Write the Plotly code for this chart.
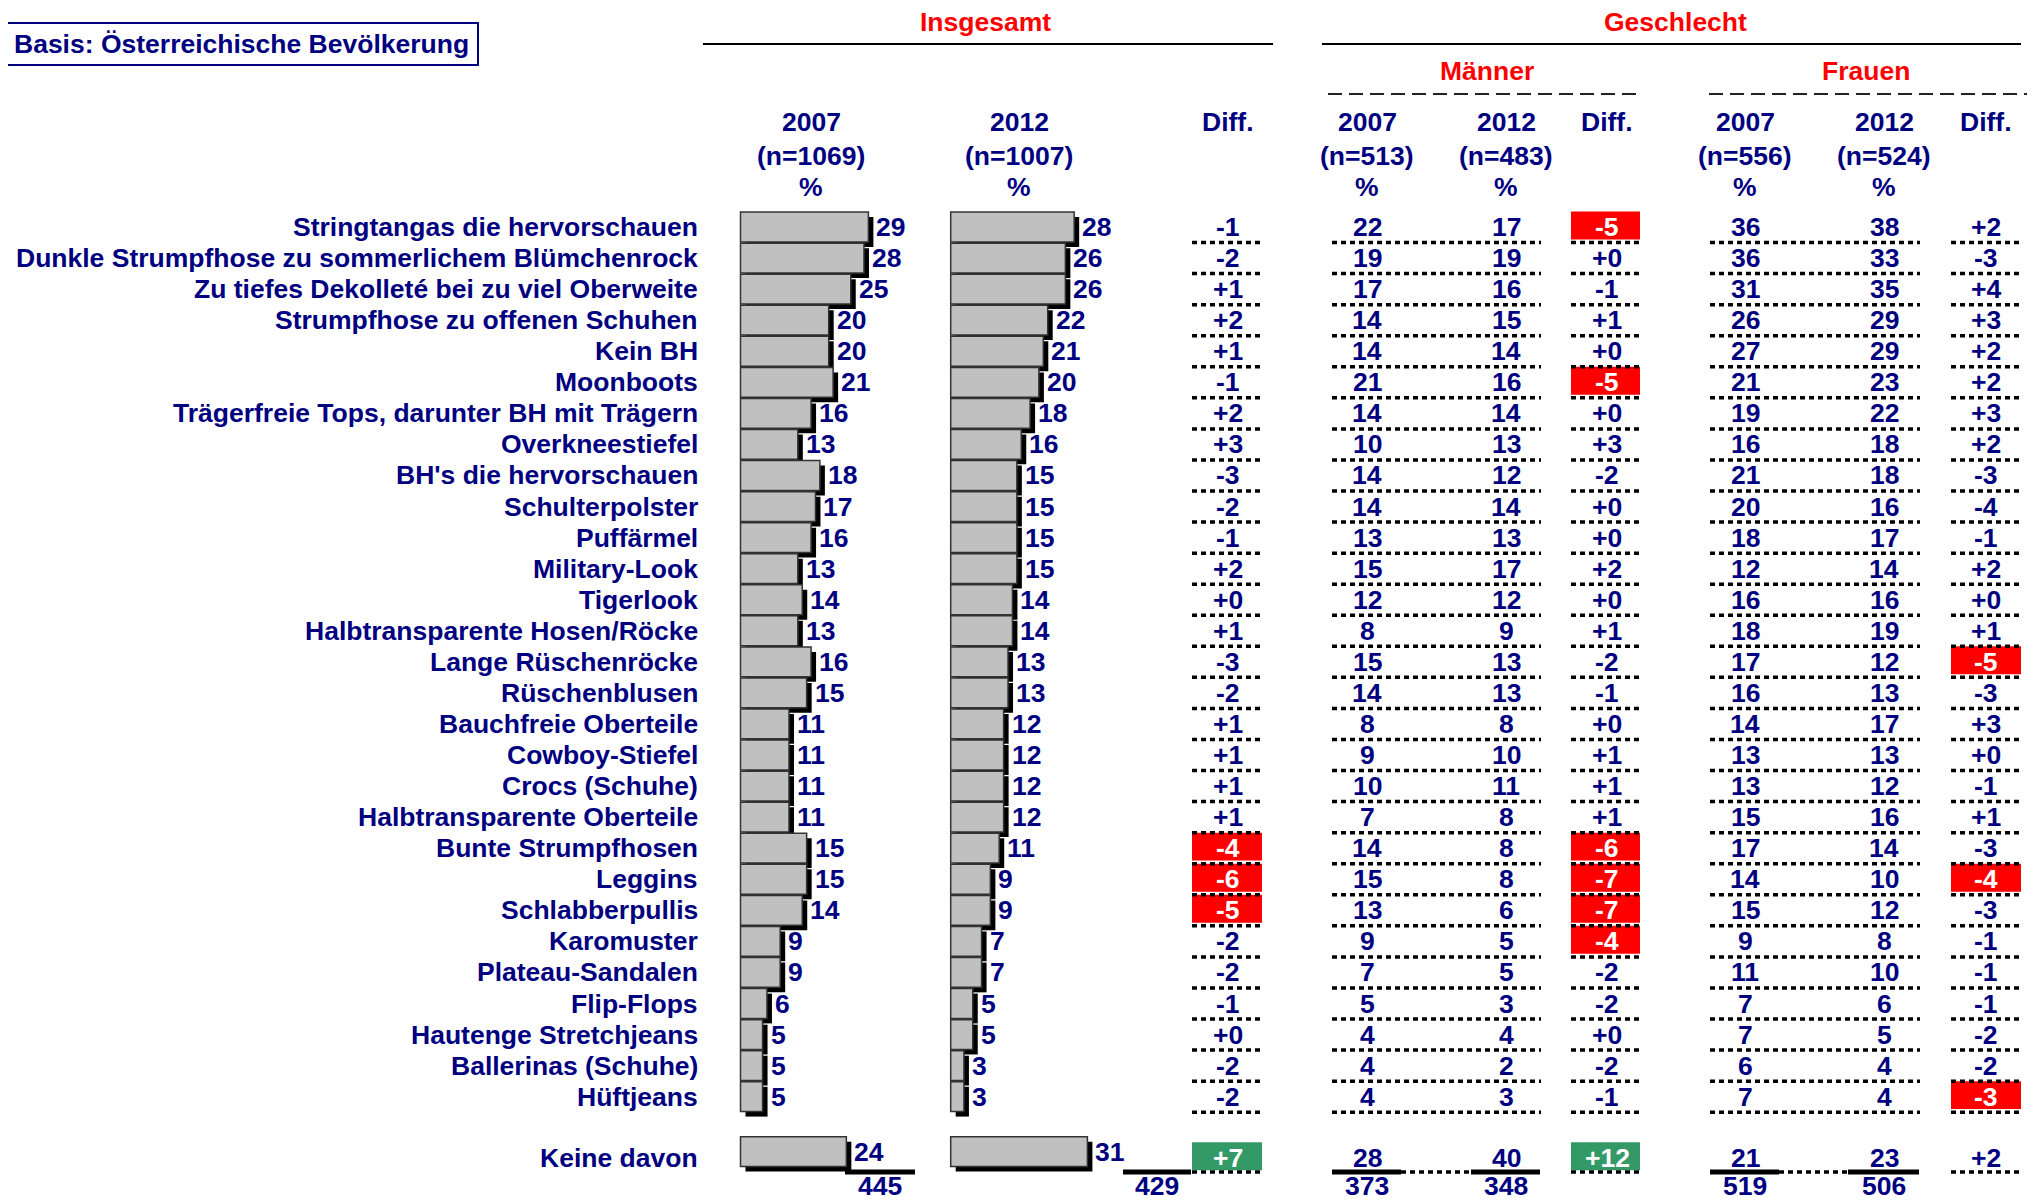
import plotly.graph_objects as go

# ---------------- data ----------------
labels = [
    "Stringtangas die hervorschauen",
    "Dunkle Strumpfhose zu sommerlichem Blümchenrock",
    "Zu tiefes Dekolleté bei zu viel Oberweite",
    "Strumpfhose zu offenen Schuhen",
    "Kein BH",
    "Moonboots",
    "Trägerfreie Tops, darunter BH mit Trägern",
    "Overkneestiefel",
    "BH's die hervorschauen",
    "Schulterpolster",
    "Puffärmel",
    "Military-Look",
    "Tigerlook",
    "Halbtransparente Hosen/Röcke",
    "Lange Rüschenröcke",
    "Rüschenblusen",
    "Bauchfreie Oberteile",
    "Cowboy-Stiefel",
    "Crocs (Schuhe)",
    "Halbtransparente Oberteile",
    "Bunte Strumpfhosen",
    "Leggins",
    "Schlabberpullis",
    "Karomuster",
    "Plateau-Sandalen",
    "Flip-Flops",
    "Hautenge Stretchjeans",
    "Ballerinas (Schuhe)",
    "Hüftjeans",
]
tot_2007 = [29, 28, 25, 20, 20, 21, 16, 13, 18, 17, 16, 13, 14, 13, 16, 15, 11, 11, 11, 11, 15, 15, 14, 9, 9, 6, 5, 5, 5]
tot_2012 = [28, 26, 26, 22, 21, 20, 18, 16, 15, 15, 15, 15, 14, 14, 13, 13, 12, 12, 12, 12, 11, 9, 9, 7, 7, 5, 5, 3, 3]
tot_diff = [-1, -2, 1, 2, 1, -1, 2, 3, -3, -2, -1, 2, 0, 1, -3, -2, 1, 1, 1, 1, -4, -6, -5, -2, -2, -1, 0, -2, -2]
men_2007 = [22, 19, 17, 14, 14, 21, 14, 10, 14, 14, 13, 15, 12, 8, 15, 14, 8, 9, 10, 7, 14, 15, 13, 9, 7, 5, 4, 4, 4]
men_2012 = [17, 19, 16, 15, 14, 16, 14, 13, 12, 14, 13, 17, 12, 9, 13, 13, 8, 10, 11, 8, 8, 8, 6, 5, 5, 3, 4, 2, 3]
men_diff = [-5, 0, -1, 1, 0, -5, 0, 3, -2, 0, 0, 2, 0, 1, -2, -1, 0, 1, 1, 1, -6, -7, -7, -4, -2, -2, 0, -2, -1]
wom_2007 = [36, 36, 31, 26, 27, 21, 19, 16, 21, 20, 18, 12, 16, 18, 17, 16, 14, 13, 13, 15, 17, 14, 15, 9, 11, 7, 7, 6, 7]
wom_2012 = [38, 33, 35, 29, 29, 23, 22, 18, 18, 16, 17, 14, 16, 19, 12, 13, 17, 13, 12, 16, 14, 10, 12, 8, 10, 6, 5, 4, 4]
wom_diff = [2, -3, 4, 3, 2, 2, 3, 2, -3, -4, -1, 2, 0, 1, -5, -3, 3, 0, -1, 1, -3, -4, -3, -1, -1, -1, -2, -2, -3]
# significant decreases (red cells)
tot_sig_down = [20, 21, 22]
men_sig_down = [0, 5, 20, 21, 22, 23]
wom_sig_down = [14, 21, 28]

none_label = "Keine davon"
none_tot = [24, 31, 7]     # 2007, 2012, diff
none_men = [28, 40, 12]
none_wom = [21, 23, 2]
none_sig_up = ["tot", "men"]  # green cells

sums_tot = [445, 429]
sums_men = [373, 348]
sums_wom = [519, 506]

hdr_tot = [("2007", "(n=1069)", "%"), ("2012", "(n=1007)", "%"), ("Diff.", "", "")]
hdr_men = [("2007", "(n=513)", "%"), ("2012", "(n=483)", "%"), ("Diff.", "", "")]
hdr_wom = [("2007", "(n=556)", "%"), ("2012", "(n=524)", "%"), ("Diff.", "", "")]

# ---------------- layout constants (page pixels) ----------------
PAGE_W, PAGE_H = 2035, 1200
OFF = 8                           # default body margin of the html page
W, H = PAGE_W - OFF, PAGE_H - OFF
Y0, ROW = 227.0, 31.06           # page-y of first row centre, row pitch
PX_PER = 4.41                     # pixels per percent
X0_07, X0_12 = 740.5, 950.7       # page-x of bar origins
SH = 5                            # shadow offset
BAR_W = 0.96
KEINE_T = 29.97
KEINE_B = 29.77

NAVY = "#000080"
RED = "#FF0000"
GREEN = "#339966"
FONT = "Liberation Sans, Arial, sans-serif"
FS = 26.5

COL = {"t07": 811, "t12": 1019, "td": 1228,
       "m07": 1367, "m12": 1506, "md": 1607,
       "w07": 1745, "w12": 1884, "wd": 1986}


def px(x):
    return (x - OFF) / W


def py(y):
    return 1 - (y - OFF) / H


rows = list(range(len(labels)))
fig = go.Figure()

dx_u = SH / PX_PER
dy_u = SH / ROW

series = [(tot_2007, rows, "x"), (tot_2012, rows, "x2"),
          ([none_tot[0]], [KEINE_B], "x"), ([none_tot[1]], [KEINE_B], "x2")]
for vals, ypos, ax in series:
    fig.add_trace(go.Bar(y=ypos, x=vals, orientation="h", base=dx_u,
                         offset=-BAR_W / 2 + dy_u, width=BAR_W,
                         marker=dict(color="black", line=dict(width=0)),
                         xaxis=ax, yaxis="y", hoverinfo="skip"))
for vals, ypos, ax in series:
    fig.add_trace(go.Bar(y=ypos, x=vals, orientation="h", width=BAR_W,
                         marker=dict(color="#C0C0C0", line=dict(color="#333333", width=1.5)),
                         xaxis=ax, yaxis="y", hoverinfo="skip"))

ann = []
shp = []


def txt(x, y, s, color=NAVY, xref="paper", yref="y", xanchor="center", size=FS, xshift=0, yshift=0):
    ann.append(dict(x=x, y=y, xref=xref, yref=yref, text="<b>" + s + "</b>", showarrow=False,
                    xanchor=xanchor, yanchor="middle", xshift=xshift, yshift=yshift,
                    font=dict(family=FONT, size=size, color=color)))


def hline(x0, x1, y, yref="y", width=3.5, dash="5px,4px", color="black"):
    shp.append(dict(type="line", xref="paper", yref=yref, x0=px(x0), x1=px(x1), y0=y, y1=y,
                    line=dict(color=color, width=width, dash=dash)))


def box(x0, x1, y0, y1, color, yref="y"):
    shp.append(dict(type="rect", xref="paper", yref=yref, x0=px(x0), x1=px(x1), y0=y0, y1=y1,
                    line=dict(width=0), fillcolor=color, layer="below"))


# Basis box
shp.append(dict(type="rect", xref="paper", yref="paper", x0=px(6), x1=px(478), y0=py(23), y1=py(65),
                line=dict(color=NAVY, width=2), fillcolor="rgba(0,0,0,0)"))
txt(px(12), py(44), "Basis: Österreichische Bevölkerung", xanchor="left", yref="paper")

# group headers
txt(px(985), py(22), "Insgesamt", color=RED, yref="paper")
txt(px(1675), py(22), "Geschlecht", color=RED, yref="paper")
txt(px(1487), py(71), "Männer", color=RED, yref="paper")
txt(px(1866), py(71), "Frauen", color=RED, yref="paper")
hline(703, 1273, py(44), yref="paper", width=2, dash="solid")
hline(1322, 2021, py(44), yref="paper", width=2, dash="solid")
hline(1328, 1639, py(94), yref="paper", width=2, dash="14px,7px", color="#222222")
hline(1709, 2032, py(94), yref="paper", width=2, dash="14px,7px", color="#222222")

# column headers
for keys, hdr in [(("t07", "t12", "td"), hdr_tot), (("m07", "m12", "md"), hdr_men), (("w07", "w12", "wd"), hdr_wom)]:
    for k, lines in zip(keys, hdr):
        for s, yy in zip(lines, (122, 156, 187)):
            if s:
                txt(px(COL[k]), py(yy), s, yref="paper")

# row labels
for i, lab in enumerate(labels):
    txt(px(700), i, lab, xanchor="right")
txt(px(700), KEINE_T, none_label, xanchor="right")

# bar value labels
for i in rows:
    txt(tot_2007[i], i, str(tot_2007[i]), xref="x", xanchor="left", xshift=6)
    txt(tot_2012[i], i, str(tot_2012[i]), xref="x2", xanchor="left", xshift=6)
txt(none_tot[0], KEINE_B, str(none_tot[0]), xref="x", xanchor="left", xshift=6)
txt(none_tot[1], KEINE_B, str(none_tot[1]), xref="x2", xanchor="left", xshift=6)

DIFF_X = {"td": (1192, 1262), "md": (1571, 1640), "wd": (1951, 2021)}


def diff_cell(k, i, d, hl):
    x0, x1 = DIFF_X[k]
    if hl:
        box(x0, x1, i - 0.5, i + 0.4, hl)
        txt(px(COL[k]), i, f"{d:+d}", color="white")
    else:
        txt(px(COL[k]), i, f"{d:+d}")


for i in rows:
    diff_cell("td", i, tot_diff[i], RED if i in tot_sig_down else None)
    diff_cell("md", i, men_diff[i], RED if i in men_sig_down else None)
    diff_cell("wd", i, wom_diff[i], RED if i in wom_sig_down else None)
    txt(px(COL["m07"]), i, str(men_2007[i]))
    txt(px(COL["m12"]), i, str(men_2012[i]))
    txt(px(COL["w07"]), i, str(wom_2007[i]))
    txt(px(COL["w12"]), i, str(wom_2012[i]))
    yl = i + 0.5
    hline(1192, 1262, yl)
    hline(1332, 1541, yl)
    hline(1571, 1640, yl)
    hline(1710, 1920, yl)
    hline(1951, 2022, yl)

# "Keine davon" row
diff_cell("td", KEINE_T, none_tot[2], GREEN if "tot" in none_sig_up else None)
diff_cell("md", KEINE_T, none_men[2], GREEN if "men" in none_sig_up else None)
diff_cell("wd", KEINE_T, none_wom[2], GREEN if "wom" in none_sig_up else None)
txt(px(COL["m07"]), KEINE_T, str(none_men[0]))
txt(px(COL["m12"]), KEINE_T, str(none_men[1]))
txt(px(COL["w07"]), KEINE_T, str(none_wom[0]))
txt(px(COL["w12"]), KEINE_T, str(none_wom[1]))
yb = (1172 - Y0) / ROW
hline(1192, 1262, yb)
hline(1571, 1640, yb)
hline(1951, 2022, yb)
hline(1401, 1471, yb)
hline(1779, 1848, yb)
for x0, x1 in [(845, 915), (1123, 1191), (1332, 1401), (1471, 1540), (1710, 1779), (1848, 1919)]:
    hline(x0, x1, yb, width=5, dash="solid")

# sums
ys = (1186 - Y0) / ROW
for xc, v in zip((880, 1157, COL["m07"], COL["m12"], COL["w07"], COL["w12"]),
                 sums_tot + sums_men + sums_wom):
    txt(px(xc), ys, str(v))

# axes: map data units to page pixels (figure starts at page offset OFF)
fig.update_layout(
    width=W, height=H, margin=dict(l=0, r=0, t=0, b=0),
    paper_bgcolor="white", plot_bgcolor="rgba(0,0,0,0)",
    barmode="overlay", showlegend=False,
    xaxis=dict(domain=[0, 1], range=[-(X0_07 - OFF) / PX_PER, (PAGE_W - X0_07) / PX_PER],
               visible=False, fixedrange=True),
    xaxis2=dict(domain=[0, 1], range=[-(X0_12 - OFF) / PX_PER, (PAGE_W - X0_12) / PX_PER],
                visible=False, overlaying="x", anchor="y", fixedrange=True),
    yaxis=dict(domain=[0, 1], range=[(PAGE_H - Y0) / ROW, -(Y0 - OFF) / ROW],
               visible=False, fixedrange=True),
    annotations=ann, shapes=shp,
)

fig.write_html("out.html", config={"displayModeBar": False})
